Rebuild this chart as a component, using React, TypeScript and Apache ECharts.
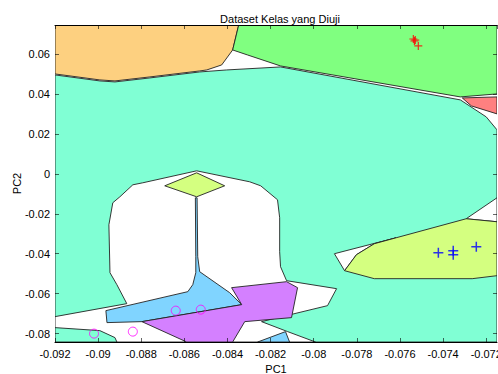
import React, { useEffect, useRef } from "react";
import * as echarts from "echarts";

// ---- axis ranges / ticks ----
const xMin = -0.092;
const xMax = -0.0715;
const xStep = 0.002;
const yMin = -0.0842;
const yMax = 0.0745;

const titleText = "Dataset Kelas yang Diuji";
const xName = "PC1";
const yName = "PC2";

// ---- decision regions (data coordinates [PC1, PC2]) ----
const tealRegion = [
  [-0.092, 0.0495], [-0.08992, 0.0465], [-0.08922, 0.046], [-0.0876, 0.048], [-0.08529, 0.051],
  [-0.08404, 0.052], [-0.08154, 0.0535], [-0.0732, 0.037], [-0.072, 0.0285], [-0.0715, 0.022],
  [-0.0715, -0.0842], [-0.092, -0.0842],
];
const orangeRegion = [
  [-0.092, 0.0745], [-0.08348, 0.0745], [-0.08376, 0.062], [-0.08427, 0.0545], [-0.08496, 0.052],
  [-0.08529, 0.0515], [-0.0876, 0.0485], [-0.08922, 0.0465], [-0.08992, 0.047], [-0.092, 0.05],
];
const greenRegion = [
  [-0.08348, 0.0745], [-0.0715, 0.0745], [-0.0715, 0.04], [-0.0732, 0.0385], [-0.08154, 0.054],
  [-0.08307, 0.0595], [-0.08376, 0.062],
];
const redRegion = [
  [-0.07311, 0.038], [-0.0715, 0.0385], [-0.0715, 0.03], [-0.07269, 0.034],
];
const whiteCentral = [
  [-0.08839, -0.0055], [-0.08793, -0.0045], [-0.08543, 0.0015], [-0.08297, -0.004], [-0.08246, -0.006],
  [-0.08168, -0.013], [-0.08158, -0.022], [-0.08158, -0.039], [-0.08154, -0.0465], [-0.08126, -0.0535],
  [-0.07894, -0.0575], [-0.07936, -0.066], [-0.08242, -0.074], [-0.08121, -0.079], [-0.07992, -0.0842],
  [-0.092, -0.0842], [-0.092, -0.0715], [-0.08867, -0.065], [-0.08913, -0.0555], [-0.08945, -0.0495],
  [-0.0895, -0.0255], [-0.08932, -0.0145], [-0.08899, -0.0115],
];
const whiteWedge = [
  [-0.07904, -0.04], [-0.07617, -0.032], [-0.07719, -0.035], [-0.07802, -0.0405], [-0.07857, -0.0485],
];
const whiteCorner = [
  [-0.07293, -0.0225], [-0.0715, -0.012], [-0.0715, -0.024],
];
const limeDiamond = [
  [-0.08691, -0.006], [-0.08543, 0.0005], [-0.08413, -0.006], [-0.08543, -0.0115],
];
const blueRegion = [
  [-0.08964, -0.0685], [-0.08584, -0.059], [-0.08561, -0.0555], [-0.08547, -0.0495], [-0.08547, -0.0415],
  [-0.08549, -0.012], [-0.08541, -0.012], [-0.08538, -0.0415], [-0.08529, -0.049], [-0.0839, -0.0595],
  [-0.08334, -0.0655], [-0.08797, -0.074], [-0.08959, -0.0745],
];
const purpleRegion = [
  [-0.08797, -0.074], [-0.08334, -0.0655], [-0.08381, -0.057], [-0.08126, -0.054], [-0.08075, -0.057],
  [-0.08103, -0.072], [-0.0832, -0.074], [-0.08376, -0.0842], [-0.08589, -0.0842],
];
const blueSmall = [
  [-0.0826, -0.0842], [-0.08131, -0.079], [-0.08112, -0.0842],
];
const tealLowerLeft = [
  [-0.092, -0.077], [-0.08992, -0.0785], [-0.08922, -0.082], [-0.08913, -0.0842], [-0.092, -0.0842],
];
const limeRegion = [
  [-0.07857, -0.0485], [-0.07802, -0.0405], [-0.07719, -0.035], [-0.07617, -0.032], [-0.07293, -0.0225],
  [-0.0715, -0.024], [-0.0715, -0.051], [-0.07265, -0.0525], [-0.07719, -0.0525],
];

// ---- tested samples ----
const redSamples = [[-0.07538, 0.0675], [-0.07529, 0.067], [-0.07533, 0.0665], [-0.07515, 0.064]];
const blueSamples = [[-0.07422, -0.0395], [-0.07353, -0.0385], [-0.07353, -0.0405], [-0.07246, -0.0365]];
const magentaSamples = [[-0.09019, -0.08], [-0.08839, -0.079], [-0.0864, -0.0685], [-0.08524, -0.068]];

const FONT = "'Liberation Sans', Arial, Helvetica, sans-serif";
const PLUS = "path://M4.25,0H5.75V4.25H10V5.75H5.75V10H4.25V5.75H0V4.25H4.25Z";

const fmt = (v: number) => String(parseFloat(Number(v).toFixed(4)));

function region(name: string, pts: number[][], fill: string) {
  return {
    type: "custom",
    name,
    coordinateSystem: "cartesian2d",
    clip: true,
    silent: true,
    data: pts,
    encode: { x: 0, y: 1 },
    renderItem: (params: any, api: any) => {
      if (params.dataIndex !== 0) return null;
      const points = pts.map((p) => api.coord(p));
      return {
        type: "polygon",
        shape: { points },
        style: { fill, stroke: "#222", lineWidth: 0.9 },
      };
    },
  };
}

export default function App() {
  const ref = useRef<HTMLDivElement>(null);
  useEffect(() => {
    if (!ref.current) return;
    const chart = echarts.init(ref.current, undefined, { renderer: "svg" });
    const tickStyle = { color: "rgba(0,0,0,0.6)", width: 1 };
    const labelStyle = { fontSize: 11, color: "#000", fontFamily: FONT };
    chart.setOption({
      animation: false,
      backgroundColor: "#fff",
      title: {
        text: titleText,
        left: 275,
        top: 8,
        textAlign: "center",
        textStyle: { fontSize: 11, fontWeight: "normal", color: "#000", fontFamily: FONT },
      },
      grid: { left: 55, right: 1, top: 25, bottom: 32, containLabel: false, outerBoundsMode: "none" },
      xAxis: [
        {
          type: "value",
          position: "bottom",
          min: xMin,
          max: xMax,
          interval: xStep,
          axisLine: { show: true, onZero: false, lineStyle: { color: "#000", width: 1 } },
          axisTick: { show: true, inside: true, length: 4, lineStyle: tickStyle },
          axisLabel: { ...labelStyle, margin: 6, showMaxLabel: false, formatter: fmt },
          splitLine: { show: false },
          name: xName,
          nameLocation: "middle",
          nameGap: 21,
          nameMoveOverlap: false,
          nameTextStyle: { fontSize: 11, color: "#000", fontFamily: FONT },
          z: 10,
        },
        {
          type: "value",
          position: "top",
          min: xMin,
          max: xMax,
          interval: xStep,
          axisLine: { show: true, onZero: false, lineStyle: { color: "#000", width: 1 } },
          axisTick: { show: true, inside: true, length: 4, lineStyle: tickStyle },
          axisLabel: { show: false },
          splitLine: { show: false },
          z: 10,
        },
      ],
      yAxis: [
        {
          type: "value",
          position: "left",
          min: yMin,
          max: yMax,
          splitNumber: 8,
          axisLine: { show: false, onZero: false },
          axisTick: { show: true, inside: true, length: 4, lineStyle: tickStyle },
          axisLabel: { ...labelStyle, margin: 5, showMinLabel: false, showMaxLabel: false, formatter: fmt },
          splitLine: { show: false },
          name: yName,
          nameLocation: "middle",
          nameGap: 33,
          nameMoveOverlap: false,
          nameRotate: 90,
          nameTextStyle: { fontSize: 11, color: "#000", fontFamily: FONT },
          z: 10,
        },
        {
          type: "value",
          position: "right",
          min: yMin,
          max: yMax,
          splitNumber: 8,
          axisLine: { show: false, onZero: false },
          axisTick: { show: true, inside: true, length: 4, lineStyle: tickStyle },
          axisLabel: { show: false },
          splitLine: { show: false },
          z: 10,
        },
      ],
      series: [
        region("teal", tealRegion, "#80FFD4"),
        region("orange", orangeRegion, "#FDD080"),
        region("green", greenRegion, "#80FF80"),
        region("red", redRegion, "#FF8080"),
        region("gap1", whiteCentral, "#FFFFFF"),
        region("gap2", whiteWedge, "#FFFFFF"),
        region("gap3", whiteCorner, "#FFFFFF"),
        region("limeDiamond", limeDiamond, "#D4FF80"),
        region("blue", blueRegion, "#80D4FF"),
        region("purple", purpleRegion, "#D480FF"),
        region("blueSmall", blueSmall, "#80D4FF"),
        region("tealLow", tealLowerLeft, "#80FFD4"),
        region("lime", limeRegion, "#D4FF80"),
        {
          type: "scatter",
          name: "red",
          data: redSamples,
          symbol: PLUS,
          symbolSize: 8,
          itemStyle: { color: "#FF0000" },
          silent: true,
          z: 5,
        },
        {
          type: "scatter",
          name: "blue",
          data: blueSamples,
          symbol: PLUS,
          symbolSize: 10,
          itemStyle: { color: "#0000FF" },
          silent: true,
          z: 5,
        },
        {
          type: "scatter",
          name: "magenta",
          data: magentaSamples,
          symbol: "circle",
          symbolSize: 9,
          itemStyle: { color: "rgba(0,0,0,0)", borderColor: "#FF00FF", borderWidth: 1 },
          silent: true,
          z: 5,
        },
      ],
    });
    return () => chart.dispose();
  }, []);
  return (
    <div
      ref={ref}
      style={{ position: "absolute", left: 0, top: 0, width: 498, height: 374 }}
    />
  );
}
